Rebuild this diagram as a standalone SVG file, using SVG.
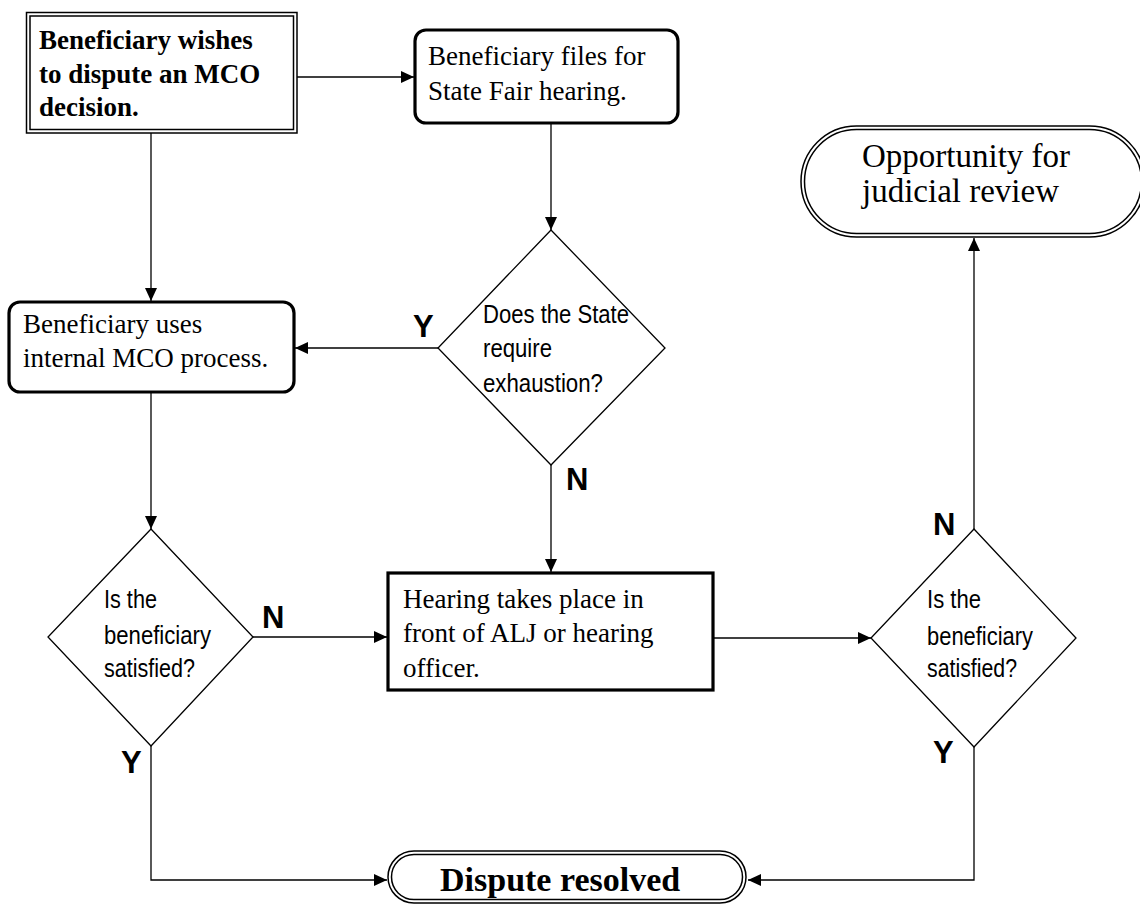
<svg xmlns="http://www.w3.org/2000/svg" width="1140" height="905" viewBox="0 0 1140 905">
<style>
.bg{fill:#fff}
.thin{fill:#fff;stroke:#000;stroke-width:1.5}
.thick{fill:#fff;stroke:#000;stroke-width:3.2}
.dia{fill:#fff;stroke:#000;stroke-width:1.3}
.serif{font-family:"Liberation Serif","Times New Roman",serif;font-size:27px;fill:#000}
.serifb{font-family:"Liberation Serif","Times New Roman",serif;font-size:27px;font-weight:bold;fill:#000}
.big{font-family:"Liberation Serif","Times New Roman",serif;font-size:33px;fill:#000}
.bigb{font-family:"Liberation Serif","Times New Roman",serif;font-size:34px;font-weight:bold;fill:#000}
.sans{font-family:"Liberation Sans",Arial,sans-serif;font-size:25px;fill:#000}
.lab{font-family:"Liberation Sans",Arial,sans-serif;font-size:31px;font-weight:bold;fill:#000}
.conn{fill:none;stroke:#000;stroke-width:1.3}
</style>
<defs>
<marker id="arr" markerUnits="userSpaceOnUse" markerWidth="14" markerHeight="12" refX="13" refY="6" orient="auto">
<path d="M0,0 L13,6 L0,12 Z" fill="#000"/>
</marker>
</defs>
<rect class="bg" x="0" y="0" width="1140" height="905"/>

<g id="connectors">
<line class="conn" x1="297" y1="77" x2="414" y2="77" marker-end="url(#arr)"/>
<line class="conn" x1="551" y1="124" x2="551" y2="230" marker-end="url(#arr)"/>
<line class="conn" x1="151" y1="133" x2="151" y2="301" marker-end="url(#arr)"/>
<line class="conn" x1="438" y1="348" x2="295" y2="348" marker-end="url(#arr)"/>
<line class="conn" x1="151" y1="393" x2="151" y2="529" marker-end="url(#arr)"/>
<line class="conn" x1="253" y1="637" x2="387" y2="637" marker-end="url(#arr)"/>
<line class="conn" x1="551" y1="465" x2="551" y2="572" marker-end="url(#arr)"/>
<line class="conn" x1="714" y1="638" x2="871" y2="638" marker-end="url(#arr)"/>
<line class="conn" x1="974" y1="529" x2="974" y2="238" marker-end="url(#arr)"/>
<polyline class="conn" points="151,746 151,880 387,880" marker-end="url(#arr)"/>
<polyline class="conn" points="974,747 974,880 748,880" marker-end="url(#arr)"/>
</g>

<g id="node-start">
<rect class="thin" x="26.5" y="12.5" width="270.5" height="120.5"/>
<rect class="thin" x="30" y="16" width="263.5" height="113.5"/>
<text class="serifb" x="39" y="49">Beneficiary wishes</text>
<text class="serifb" x="39" y="83">to dispute an MCO</text>
<text class="serifb" x="39" y="116">decision.</text>
</g>

<g id="node-files">
<rect class="thick" x="415" y="30" width="263" height="93" rx="11"/>
<text class="serif" x="428" y="65">Beneficiary files for</text>
<text class="serif" x="428" y="100">State Fair hearing.</text>
</g>

<g id="node-exhaustion">
<polygon class="dia" points="551,230 665,348 551,465 438,348"/>
<text class="sans" x="483" y="323" textLength="146" lengthAdjust="spacingAndGlyphs">Does the State</text>
<text class="sans" x="483" y="357" textLength="69" lengthAdjust="spacingAndGlyphs">require</text>
<text class="sans" x="483" y="392" textLength="120" lengthAdjust="spacingAndGlyphs">exhaustion?</text>
</g>

<g id="node-internal">
<rect class="thick" x="9" y="302" width="285" height="90" rx="11"/>
<text class="serif" x="23" y="333">Beneficiary uses</text>
<text class="serif" x="23" y="367">internal MCO process.</text>
</g>

<g id="node-satisfied1">
<polygon class="dia" points="151,529 253,637 151,746 48,637"/>
<text class="sans" x="104" y="608" textLength="53" lengthAdjust="spacingAndGlyphs">Is the</text>
<text class="sans" x="104" y="644" textLength="107" lengthAdjust="spacingAndGlyphs">beneficiary</text>
<text class="sans" x="104" y="677" textLength="91" lengthAdjust="spacingAndGlyphs">satisfied?</text>
</g>

<g id="node-hearing">
<rect class="thick" x="388" y="573" width="325" height="117" stroke-width="3.6"/>
<text class="serif" x="403" y="608">Hearing takes place in</text>
<text class="serif" x="403" y="642">front of ALJ or hearing</text>
<text class="serif" x="403" y="677">officer.</text>
</g>

<g id="node-satisfied2">
<polygon class="dia" points="974,529 1076,638 974,747 871,638"/>
<text class="sans" x="927" y="608" textLength="54" lengthAdjust="spacingAndGlyphs">Is the</text>
<text class="sans" x="927" y="645" textLength="106" lengthAdjust="spacingAndGlyphs">beneficiary</text>
<text class="sans" x="927" y="677" textLength="90" lengthAdjust="spacingAndGlyphs">satisfied?</text>
</g>

<g id="node-judicial">
<rect class="thin" x="801" y="126" width="344" height="111" rx="55.5"/>
<rect class="thin" x="804.5" y="129.5" width="337" height="104" rx="52"/>
<text class="big" x="862" y="167">Opportunity for</text>
<text class="big" x="862" y="202">judicial review</text>
</g>

<g id="node-resolved">
<rect class="thin" x="388" y="851" width="358" height="52" rx="26"/>
<rect class="thin" x="391.5" y="854.5" width="351" height="45" rx="22.5"/>
<text class="bigb" x="440" y="891">Dispute resolved</text>
</g>

<g id="labels">
<text class="lab" x="413" y="337">Y</text>
<text class="lab" x="566" y="490">N</text>
<text class="lab" x="262" y="628">N</text>
<text class="lab" x="121" y="773">Y</text>
<text class="lab" x="933" y="535">N</text>
<text class="lab" x="933" y="763">Y</text>
</g>
</svg>
